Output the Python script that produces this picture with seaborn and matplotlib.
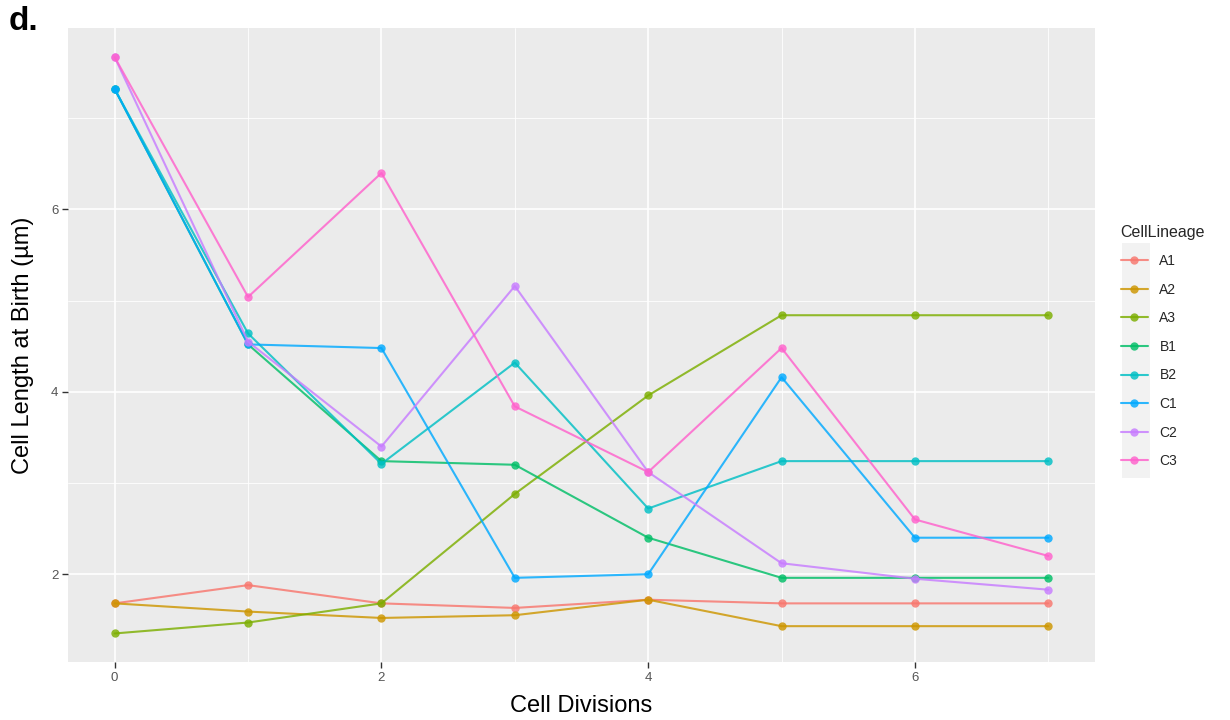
import numpy as np
import pandas as pd
import matplotlib
matplotlib.use("Agg")
import matplotlib.pyplot as plt
from matplotlib.patches import Rectangle
from matplotlib.lines import Line2D
from matplotlib.ticker import MultipleLocator
import seaborn as sns

divisions = [0, 1, 2, 3, 4, 5, 6, 7]
lineages = ["A1", "A2", "A3", "B1", "B2", "C1", "C2", "C3"]
A1 = [1.68, 1.88, 1.68, 1.63, 1.72, 1.68, 1.68, 1.68]
A2 = [1.68, 1.59, 1.52, 1.55, 1.72, 1.43, 1.43, 1.43]
A3 = [1.35, 1.47, 1.68, 2.88, 3.96, 4.84, 4.84, 4.84]
B1 = [7.32, 4.52, 3.24, 3.20, 2.40, 1.96, 1.96, 1.96]
B2 = [7.32, 4.64, 3.21, 4.32, 2.72, 3.24, 3.24, 3.24]
C1 = [7.32, 4.52, 4.48, 1.96, 2.00, 4.16, 2.40, 2.40]
C2 = [7.67, 4.55, 3.40, 5.16, 3.12, 2.12, 1.95, 1.83]
C3 = [7.67, 5.04, 6.40, 3.84, 3.12, 4.48, 2.60, 2.20]
series = [A1, A2, A3, B1, B2, C1, C2, C3]
colors = ["#F8766D", "#CD9600", "#7CAE00", "#00BE67", "#00BFC4", "#00A9FF", "#C77CFF", "#FF61CC"]

rows = []
for name, vals in zip(lineages, series):
    for d, v in zip(divisions, vals):
        rows.append({"CellDivisions": d, "Length": v, "CellLineage": name})
df = pd.DataFrame(rows)

sns.set_style("darkgrid", {"axes.facecolor": "#EBEBEB", "grid.color": "white"})
plt.rcParams["font.family"] = ["Liberation Sans", "DejaVu Sans"]

fig = plt.figure(figsize=(12.3, 7.2), dpi=100)
ax = fig.add_axes([68 / 1230, 58 / 720, (1095 - 68) / 1230, (662 - 28) / 720])

sns.lineplot(data=df, x="CellDivisions", y="Length", hue="CellLineage",
             hue_order=lineages, palette=colors, marker="o", markersize=6,
             markeredgewidth=0, linewidth=1.5, alpha=0.82, ax=ax, legend=False)

ax.set_xlim(-0.35, 7.35)
ax.set_ylim(1.037, 7.99)
ax.xaxis.set_major_locator(MultipleLocator(2))
ax.xaxis.set_minor_locator(MultipleLocator(1))
ax.yaxis.set_major_locator(MultipleLocator(2))
ax.yaxis.set_minor_locator(MultipleLocator(1))
ax.grid(which="major", color="white", linewidth=1.2)
ax.grid(which="minor", color="white", linewidth=0.6)
ax.set_axisbelow(True)
for s in ax.spines.values():
    s.set_visible(False)
ax.tick_params(which="major", direction="out", length=4, width=1, color="#333333",
               labelsize=9.5, labelcolor="#555555", left=True, bottom=True, pad=3)
ax.tick_params(which="minor", length=0)

ax.set_xlabel("Cell Divisions", fontsize=17, color="black", labelpad=8)
ax.set_ylabel("Cell Length at Birth (µm)", fontsize=17, color="black", labelpad=12)

handles = [Line2D([0], [0], color=c, marker="o", markersize=6, markeredgewidth=0,
                  linewidth=1.5, alpha=0.82) for c in colors]
leg = ax.legend(handles=handles, labels=lineages, title="CellLineage",
                loc="upper left", bbox_to_anchor=(1108 / 1230, 1 - 212 / 720),
                bbox_transform=fig.transFigure, frameon=False, fontsize=10,
                title_fontsize=11.5, handlelength=2.0, handletextpad=0.8,
                labelspacing=1.05, alignment="left")

fig.patches.append(Rectangle((1122 / 1230, 1 - 478 / 720), 28 / 1230, 235 / 720,
                             transform=fig.transFigure, facecolor="#F2F2F2",
                             edgecolor="none", zorder=-1))

fig.text(9 / 1230, 1 - 6 / 720, "d.", fontsize=24, fontweight="heavy",
         ha="left", va="top", color="black")

fig.savefig("out.png", dpi=100)
